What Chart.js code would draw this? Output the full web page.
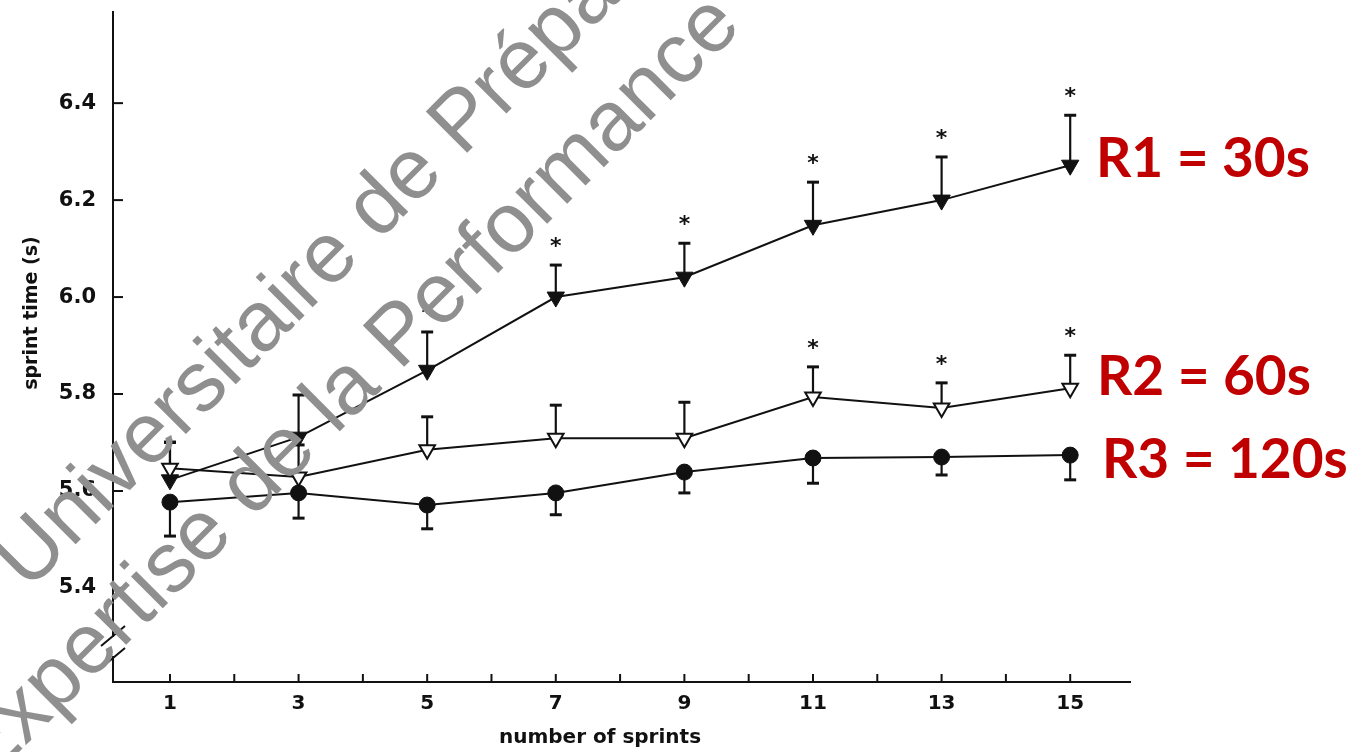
<!DOCTYPE html>
<html>
<head>
<meta charset="utf-8">
<script src="https://cdn.jsdelivr.net/npm/chart.js@4.4.1/dist/chart.umd.min.js"></script>
<style>
  html, body { margin: 0; padding: 0; background: #ffffff; }
  #wrap { width: 1369px; height: 752px; position: relative; }
</style>
</head>
<body>
<div id="wrap"><canvas id="c" width="1369" height="752"></canvas></div>
<script>
// ---- data ----
const sprints = [1, 3, 5, 7, 9, 11, 13, 15];
const r1Mean = [5.623, 5.711, 5.849, 6.000, 6.041, 6.148, 6.200, 6.272];
const r1ErrUp = [0.078, 0.087, 0.079, 0.066, 0.070, 0.089, 0.089, 0.103];
const r2Mean = [5.647, 5.629, 5.685, 5.709, 5.709, 5.794, 5.771, 5.812];
const r2ErrUp = [0.053, 0.066, 0.068, 0.068, 0.074, 0.062, 0.052, 0.068];
const r3Mean = [5.577, 5.596, 5.571, 5.596, 5.639, 5.668, 5.670, 5.674];
const r3ErrDown = [0.070, 0.052, 0.049, 0.045, 0.043, 0.052, 0.037, 0.051];
const r1Signif = [false, false, true, true, true, true, true, true];
const r2Signif = [false, false, false, false, false, true, true, true];
const seriesLabels = ['R1 = 30s', 'R2 = 60s', 'R3 = 120s'];
const yTickValues = [5.4, 5.6, 5.8, 6.0, 6.2, 6.4];
const xTickLabels = [1, 3, 5, 7, 9, 11, 13, 15];
const xMinorTicks = [1, 2, 3, 4, 5, 6, 7, 8, 9, 10, 11, 12, 13, 14, 15];
const xTitle = 'number of sprints';
const yTitle = 'sprint time (s)';
const watermarkLines = ['Universitaire de Prépa', 'Expertise de la Performance'];

const toPts = (arr) => sprints.map((x, i) => ({ x: x, y: arr[i] }));

const errorInfo = [
  { mean: r1Mean, up: r1ErrUp, down: null, sig: r1Signif },
  { mean: r2Mean, up: r2ErrUp, down: null, sig: r2Signif },
  { mean: r3Mean, up: null, down: r3ErrDown, sig: null }
];

const extras = {
  id: 'extras',
  beforeDatasetsDraw(chart) {
    const ctx = chart.ctx, xs = chart.scales.x, ys = chart.scales.y;
    ctx.save();
    ctx.strokeStyle = '#111';
    errorInfo.forEach(info => {
      sprints.forEach((sx, i) => {
        const px = xs.getPixelForValue(sx);
        const py = ys.getPixelForValue(info.mean[i]);
        const ends = [];
        if (info.up) ends.push(ys.getPixelForValue(info.mean[i] + info.up[i]));
        if (info.down) ends.push(ys.getPixelForValue(info.mean[i] - info.down[i]));
        ends.forEach(ey => {
          ctx.lineWidth = 2.2;
          ctx.beginPath(); ctx.moveTo(px, py); ctx.lineTo(px, ey); ctx.stroke();
          ctx.lineWidth = 3;
          ctx.beginPath(); ctx.moveTo(px - 6, ey); ctx.lineTo(px + 6, ey); ctx.stroke();
        });
      });
    });
    ctx.restore();
  },
  afterDraw(chart, args, opts) {
    const ctx = chart.ctx, xs = chart.scales.x, ys = chart.scales.y, ca = chart.chartArea;
    ctx.save();
    // inner tick marks
    ctx.strokeStyle = '#111';
    ctx.lineWidth = 2;
    yTickValues.forEach(v => {
      const py = ys.getPixelForValue(v);
      ctx.beginPath(); ctx.moveTo(ca.left, py); ctx.lineTo(ca.left + 10, py); ctx.stroke();
    });
    xMinorTicks.forEach(v => {
      const px = xs.getPixelForValue(v);
      ctx.beginPath(); ctx.moveTo(px, ca.bottom); ctx.lineTo(px, ca.bottom - 8); ctx.stroke();
    });
    // axis break
    ctx.fillStyle = '#ffffff';
    ctx.fillRect(ca.left - 3, 637, 6, 19);
    ctx.lineWidth = 2;
    [636, 658].forEach(cy => {
      ctx.beginPath(); ctx.moveTo(ca.left - 12, cy + 10); ctx.lineTo(ca.left + 12, cy - 10); ctx.stroke();
    });
    // significance asterisks
    ctx.fillStyle = '#111';
    ctx.font = 'bold 22px "DejaVu Sans"';
    ctx.textAlign = 'center';
    ctx.textBaseline = 'alphabetic';
    errorInfo.forEach(info => {
      if (!info.sig) return;
      sprints.forEach((sx, i) => {
        if (!info.sig[i]) return;
        const px = xs.getPixelForValue(sx);
        const capY = ys.getPixelForValue(info.mean[i] + info.up[i]);
        ctx.fillText('*', px, capY - 25 + 13);
      });
    });
    // axis titles
    ctx.font = 'bold 20px "DejaVu Sans"';
    ctx.textBaseline = 'middle';
    ctx.fillText(xTitle, opts.xTitlePos.x, opts.xTitlePos.y);
    ctx.save();
    ctx.translate(opts.yTitlePos.x, opts.yTitlePos.y);
    ctx.rotate(-Math.PI / 2);
    ctx.font = 'bold 19px "DejaVu Sans"';
    ctx.fillText(yTitle, 0, 0);
    ctx.restore();
    // series labels
    ctx.fillStyle = '#C00000';
    ctx.font = 'bold 55px Lato';
    ctx.textAlign = 'left';
    ctx.textBaseline = 'alphabetic';
    seriesLabels.forEach((t, i) => {
      ctx.fillText(t, opts.labelPos[i].x, opts.labelPos[i].y);
    });
    // watermark
    ctx.fillStyle = '#8f8f8f';
    ctx.font = '85px "Liberation Sans"';
    watermarkLines.forEach((t, i) => {
      ctx.save();
      ctx.translate(opts.wmPos[i].x, opts.wmPos[i].y);
      ctx.rotate(-Math.PI / 4);
      ctx.fillText(t, 0, 0);
      ctx.restore();
    });
    ctx.restore();
  }
};

new Chart(document.getElementById('c'), {
  type: 'line',
  data: {
    datasets: [
      {
        label: seriesLabels[2], data: toPts(r3Mean),
        borderColor: '#111', borderWidth: 2, backgroundColor: '#111',
        pointStyle: 'circle', pointRadius: 8, pointBackgroundColor: '#111', pointBorderColor: '#111', pointBorderWidth: 1
      },
      {
        label: seriesLabels[1], data: toPts(r2Mean),
        borderColor: '#111', borderWidth: 2, backgroundColor: '#fff',
        pointStyle: 'triangle', rotation: 180, pointRadius: 9, pointBackgroundColor: '#ffffff', pointBorderColor: '#111', pointBorderWidth: 2
      },
      {
        label: seriesLabels[0], data: toPts(r1Mean),
        borderColor: '#111', borderWidth: 2, backgroundColor: '#111',
        pointStyle: 'triangle', rotation: 180, pointRadius: 10, pointBackgroundColor: '#111', pointBorderColor: '#111', pointBorderWidth: 1
      }
    ]
  },
  options: {
    responsive: false,
    animation: false,
    events: [],
    layout: { padding: { top: 12, right: 239, left: 0, bottom: 0 } },
    plugins: {
      legend: { display: false },
      tooltip: { enabled: false },
      extras: {
        xTitlePos: { x: 600, y: 738 },
        yTitlePos: { x: 32, y: 313 },
        labelPos: [{ x: 1096, y: 177 }, { x: 1097, y: 395 }, { x: 1102, y: 478 }],
        wmPos: [{ x: 28, y: 592 }, { x: -15, y: 786 }]
      }
    },
    scales: {
      x: {
        type: 'linear', min: 0.114, max: 15.93,
        afterFit: s => { s.height = 70; s.paddingLeft = 0; s.paddingRight = 0; },
        afterBuildTicks: s => { s.ticks = xTickLabels.map(v => ({ value: v })); },
        grid: { display: false, drawTicks: false },
        border: { display: true, color: '#111', width: 2 },
        ticks: { padding: 10, color: '#111', font: { family: 'DejaVu Sans', weight: 'bold', size: 20 } }
      },
      y: {
        type: 'linear', min: 5.206, max: 6.588,
        afterFit: s => { s.width = 113; s.paddingTop = 0; s.paddingBottom = 0; },
        afterBuildTicks: s => { s.ticks = yTickValues.map(v => ({ value: v })); },
        grid: { display: false, drawTicks: false },
        border: { display: true, color: '#111', width: 2 },
        ticks: { padding: 17, color: '#111', font: { family: 'DejaVu Sans', weight: 'bold', size: 21 },
                 callback: v => Number(v).toFixed(1) }
      }
    }
  },
  plugins: [extras]
});
</script>
</body>
</html>
